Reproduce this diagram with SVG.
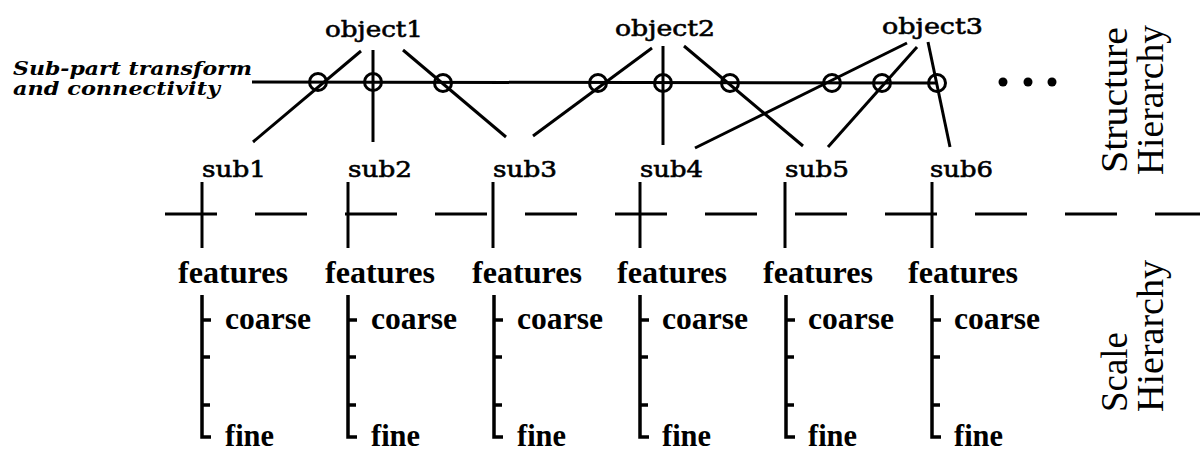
<svg xmlns="http://www.w3.org/2000/svg" width="1200" height="451" viewBox="0 0 1200 451">
<style>
.ln{stroke:#000;stroke-width:3;fill:none}
.cir{stroke:#000;stroke-width:3;fill:none}
.br{stroke:#000;stroke-width:3.5;fill:none}
.top{font-family:"DejaVu Serif",serif;font-size:23px;fill:#000;stroke:#000;stroke-width:0.6}
.low{font-family:"Liberation Serif",serif;font-weight:bold;font-size:32px;fill:#000}
.rot{font-family:"Liberation Serif",serif;font-size:38px;fill:#000}
.ital{font-family:"DejaVu Serif",serif;font-style:italic;font-weight:bold;font-size:18px;fill:#000}
</style>
<rect width="1200" height="451" fill="#fff"/>

<g id="label-subpart">
<text class="ital" x="13" y="75" textLength="239" lengthAdjust="spacingAndGlyphs">Sub-part transform</text>
<text class="ital" x="13" y="95" textLength="207" lengthAdjust="spacingAndGlyphs">and connectivity</text>
</g>

<g id="object1"><text class="top" x="325" y="37" textLength="98" lengthAdjust="spacingAndGlyphs">object1</text></g>
<g id="object2"><text class="top" x="615" y="36" textLength="100" lengthAdjust="spacingAndGlyphs">object2</text></g>
<g id="object3"><text class="top" x="882" y="34" textLength="101" lengthAdjust="spacingAndGlyphs">object3</text></g>

<g id="sub1"><text class="top" x="202" y="177" textLength="64" lengthAdjust="spacingAndGlyphs">sub1</text></g>
<g id="sub2"><text class="top" x="348" y="177" textLength="64" lengthAdjust="spacingAndGlyphs">sub2</text></g>
<g id="sub3"><text class="top" x="493" y="177" textLength="64" lengthAdjust="spacingAndGlyphs">sub3</text></g>
<g id="sub4"><text class="top" x="640" y="177" textLength="63" lengthAdjust="spacingAndGlyphs">sub4</text></g>
<g id="sub5"><text class="top" x="785" y="177" textLength="64" lengthAdjust="spacingAndGlyphs">sub5</text></g>
<g id="sub6"><text class="top" x="930" y="177" textLength="63" lengthAdjust="spacingAndGlyphs">sub6</text></g>

<g id="connectors">
<line class="ln" x1="252" y1="82" x2="937" y2="83"/>
<circle class="cir" cx="318" cy="82" r="8.5"/>
<circle class="cir" cx="373" cy="82" r="8.5"/>
<circle class="cir" cx="443" cy="83" r="8.5"/>
<circle class="cir" cx="598" cy="83" r="8.5"/>
<circle class="cir" cx="663" cy="83" r="8.5"/>
<circle class="cir" cx="730" cy="83" r="8.5"/>
<circle class="cir" cx="832" cy="83" r="8.5"/>
<circle class="cir" cx="882" cy="83" r="8.5"/>
<circle class="cir" cx="937" cy="83" r="8.5"/>
<line class="ln" x1="253" y1="142" x2="361" y2="51"/>
<line class="ln" x1="373" y1="50" x2="373" y2="142"/>
<line class="ln" x1="403" y1="50" x2="506" y2="137"/>
<line class="ln" x1="652" y1="48" x2="533" y2="136"/>
<line class="ln" x1="663" y1="46" x2="663" y2="145"/>
<line class="ln" x1="684" y1="46" x2="803" y2="146"/>
<line class="ln" x1="907" y1="43" x2="695" y2="148"/>
<line class="ln" x1="917" y1="47" x2="828" y2="147"/>
<line class="ln" x1="928" y1="42" x2="950" y2="147"/>
<line class="ln" x1="202" y1="182" x2="202" y2="248"/>
<line class="ln" x1="348" y1="182" x2="348" y2="248"/>
<line class="ln" x1="493" y1="182" x2="493" y2="248"/>
<line class="ln" x1="640" y1="182" x2="640" y2="248"/>
<line class="ln" x1="785" y1="182" x2="785" y2="248"/>
<line class="ln" x1="932" y1="182" x2="932" y2="248"/>
</g>

<g id="ellipsis">
<circle cx="1003" cy="82" r="4.5" fill="#000"/>
<circle cx="1028" cy="82" r="4.5" fill="#000"/>
<circle cx="1052" cy="82" r="4.5" fill="#000"/>
</g>

<g id="separator">
<line class="ln" x1="165" y1="214" x2="1200" y2="214" stroke-dasharray="52 38"/>
</g>

<g id="features1">
<text class="low" x="178" y="283" textLength="110" lengthAdjust="spacingAndGlyphs">features</text>
<path class="br" d="M202 295V437H211M202 320h9M202 357h8M202 405h8"/>
<text class="low" x="225" y="329" textLength="86" lengthAdjust="spacingAndGlyphs">coarse</text>
<text class="low" x="225" y="446" textLength="49" lengthAdjust="spacingAndGlyphs">fine</text>
</g>
<g id="features2">
<text class="low" x="325" y="283" textLength="110" lengthAdjust="spacingAndGlyphs">features</text>
<path class="br" d="M348 295V437H357M348 320h9M348 357h8M348 405h8"/>
<text class="low" x="371" y="329" textLength="86" lengthAdjust="spacingAndGlyphs">coarse</text>
<text class="low" x="371" y="446" textLength="49" lengthAdjust="spacingAndGlyphs">fine</text>
</g>
<g id="features3">
<text class="low" x="472" y="283" textLength="110" lengthAdjust="spacingAndGlyphs">features</text>
<path class="br" d="M494 295V437H503M494 320h9M494 357h8M494 405h8"/>
<text class="low" x="517" y="329" textLength="86" lengthAdjust="spacingAndGlyphs">coarse</text>
<text class="low" x="517" y="446" textLength="49" lengthAdjust="spacingAndGlyphs">fine</text>
</g>
<g id="features4">
<text class="low" x="617" y="283" textLength="110" lengthAdjust="spacingAndGlyphs">features</text>
<path class="br" d="M640 295V437H649M640 320h9M640 357h8M640 405h8"/>
<text class="low" x="662" y="329" textLength="86" lengthAdjust="spacingAndGlyphs">coarse</text>
<text class="low" x="662" y="446" textLength="49" lengthAdjust="spacingAndGlyphs">fine</text>
</g>
<g id="features5">
<text class="low" x="763" y="283" textLength="110" lengthAdjust="spacingAndGlyphs">features</text>
<path class="br" d="M786 295V437H795M786 320h9M786 357h8M786 405h8"/>
<text class="low" x="808" y="329" textLength="86" lengthAdjust="spacingAndGlyphs">coarse</text>
<text class="low" x="808" y="446" textLength="49" lengthAdjust="spacingAndGlyphs">fine</text>
</g>
<g id="features6">
<text class="low" x="908" y="283" textLength="110" lengthAdjust="spacingAndGlyphs">features</text>
<path class="br" d="M932 295V437H941M932 320h9M932 357h8M932 405h8"/>
<text class="low" x="954" y="329" textLength="86" lengthAdjust="spacingAndGlyphs">coarse</text>
<text class="low" x="954" y="446" textLength="49" lengthAdjust="spacingAndGlyphs">fine</text>
</g>

<g id="structure-hierarchy">
<text class="rot" transform="translate(1127,173) rotate(-90)" textLength="146" lengthAdjust="spacingAndGlyphs">Structure</text>
<text class="rot" transform="translate(1163,175) rotate(-90)" textLength="150" lengthAdjust="spacingAndGlyphs">Hierarchy</text>
</g>
<g id="scale-hierarchy">
<text class="rot" transform="translate(1127,412) rotate(-90)" textLength="80" lengthAdjust="spacingAndGlyphs">Scale</text>
<text class="rot" transform="translate(1163,412) rotate(-90)" textLength="152" lengthAdjust="spacingAndGlyphs">Hierarchy</text>
</g>
</svg>
